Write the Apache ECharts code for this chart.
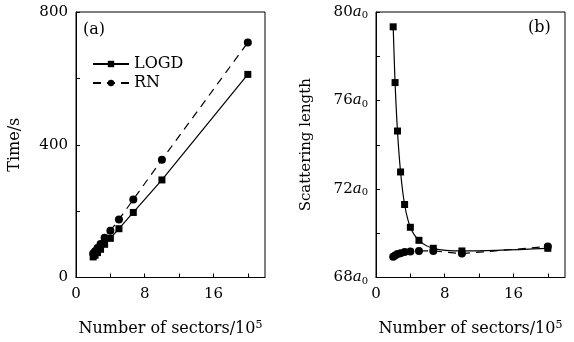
<!DOCTYPE html>
<html>
<head>
<meta charset="utf-8">
<script src="https://cdn.jsdelivr.net/npm/echarts@6/dist/echarts.min.js"></script>
<style>
  html, body { margin: 0; padding: 0; background: #fff; }
  #chart { width: 574px; height: 342px; }
</style>
</head>
<body>
<div id="chart"></div>
<script>
// number of sectors (x 10^5)
const sectors = [2.0, 2.22, 2.5, 2.86, 3.33, 4.0, 5.0, 6.67, 10.0, 20.0]
// (a) computing time / s
const timeLOGD = [62, 67, 75, 85, 100, 118, 147, 196, 294, 612]
const timeRN = [72, 79, 89, 101, 120, 141, 175, 235, 355, 708]
// (b) scattering length / a0
const scatLOGD = [79.33, 76.81, 74.62, 72.77, 71.30, 70.27, 69.68, 69.32, 69.20, 69.32]
const scatRN = [68.94, 69.00, 69.06, 69.10, 69.15, 69.18, 69.20, 69.20, 69.08, 69.40]

const xTickLabels = [0, 8, 16]
const timeTickLabels = [0, 400, 800]
const scatTickLabels = [68, 72, 76, 80]

const FONT = 'DejaVu Serif'
const FS = 15
const FS_NAME = 16

function pairs (xs, ys) {
  return xs.map((x, i) => [x, ys[i]])
}

function xAxisFor (gridIndex) {
  return {
    type: 'value',
    gridIndex: gridIndex,
    min: 0,
    max: 22,
    interval: 4,
    name: '{t|Number of sectors/10}{sup|5}',
    nameLocation: 'middle',
    nameGap: 42,
    nameTextStyle: {
      rich: {
        t: { fontFamily: FONT, fontSize: FS_NAME, color: '#000' },
        sup: { fontFamily: FONT, fontSize: 11, color: '#000', verticalAlign: 'top', padding: [0, 0, 8, 0] }
      }
    },
    splitLine: { show: false },
    axisLine: { onZero: false, lineStyle: { color: '#000', width: 1 } },
    axisTick: { inside: true, length: 4, lineStyle: { color: '#000' } },
    axisLabel: {
      margin: 9,
      showMaxLabel: false,
      fontFamily: FONT,
      fontSize: FS,
      color: '#000',
      formatter: function (v) {
        return xTickLabels.indexOf(v) >= 0 ? String(v) : ''
      }
    }
  }
}

const option = {
  backgroundColor: '#fff',
  animation: false,
  grid: [
    { left: 76, top: 12, width: 189, height: 272, show: true, borderColor: '#000', borderWidth: 1 },
    { left: 376, top: 12, width: 189, height: 272, show: true, borderColor: '#000', borderWidth: 1 }
  ],
  legend: {
    left: 87,
    top: 51,
    orient: 'vertical',
    itemWidth: 36,
    itemHeight: 8,
    itemGap: 3,
    textStyle: { fontFamily: FONT, fontSize: FS_NAME, color: '#000' },
    data: ['LOGD', 'RN']
  },
  title: [
    { text: '(a)', left: 78, top: 17, textStyle: { fontFamily: FONT, fontSize: FS_NAME, fontWeight: 'normal', color: '#000' } },
    { text: '(b)', left: 523, top: 15, textStyle: { fontFamily: FONT, fontSize: FS_NAME, fontWeight: 'normal', color: '#000' } }
  ],
  xAxis: [xAxisFor(0), xAxisFor(1)],
  yAxis: [
    {
      type: 'value',
      gridIndex: 0,
      min: 0,
      max: 800,
      interval: 200,
      name: 'Time/s',
      nameLocation: 'middle',
      nameGap: 53,
      nameTextStyle: { fontFamily: FONT, fontSize: FS_NAME, color: '#000' },
      splitLine: { show: false },
      axisLine: { onZero: false, lineStyle: { color: '#000', width: 1 } },
      axisTick: { inside: true, length: 4, lineStyle: { color: '#000' } },
      axisLabel: {
        margin: 8,
        fontFamily: FONT,
        fontSize: FS,
        color: '#000',
        formatter: function (v) {
          return timeTickLabels.indexOf(v) >= 0 ? String(v) : ''
        }
      }
    },
    {
      type: 'value',
      gridIndex: 1,
      min: 68,
      max: 80,
      interval: 2,
      name: 'Scattering length',
      nameLocation: 'middle',
      nameGap: 62,
      nameTextStyle: { fontFamily: FONT, fontSize: FS, color: '#000' },
      splitLine: { show: false },
      axisLine: { onZero: false, lineStyle: { color: '#000', width: 1 } },
      axisTick: { inside: true, length: 4, lineStyle: { color: '#000' } },
      axisLabel: {
        margin: 8,
        formatter: function (v) {
          return scatTickLabels.indexOf(v) >= 0 ? '{n|' + v + '}{a|a}{s|0}' : ''
        },
        rich: {
          n: { fontFamily: FONT, fontSize: FS, color: '#000' },
          a: { fontFamily: FONT, fontSize: FS, fontStyle: 'italic', color: '#000' },
          s: { fontFamily: FONT, fontSize: 10, color: '#000', verticalAlign: 'bottom', padding: [7, 0, 0, 0] }
        }
      }
    }
  ],
  series: [
    {
      name: 'LOGD',
      type: 'line',
      xAxisIndex: 0,
      yAxisIndex: 0,
      data: pairs(sectors, timeLOGD),
      symbol: 'rect',
      symbolSize: 7,
      itemStyle: { color: '#000' },
      lineStyle: { color: '#000', width: 1.2 }
    },
    {
      name: 'RN',
      type: 'line',
      xAxisIndex: 0,
      yAxisIndex: 0,
      data: pairs(sectors, timeRN),
      symbol: 'circle',
      symbolSize: 8,
      itemStyle: { color: '#000' },
      lineStyle: { color: '#000', width: 1.2, type: [8, 6] }
    },
    {
      name: 'LOGD',
      type: 'line',
      xAxisIndex: 1,
      yAxisIndex: 1,
      data: pairs(sectors, scatLOGD),
      smooth: 0.3,
      symbol: 'rect',
      symbolSize: 7,
      itemStyle: { color: '#000' },
      lineStyle: { color: '#000', width: 1.2 }
    },
    {
      name: 'RN',
      type: 'line',
      xAxisIndex: 1,
      yAxisIndex: 1,
      data: pairs(sectors, scatRN),
      symbol: 'circle',
      symbolSize: 8,
      itemStyle: { color: '#000' },
      lineStyle: { color: '#000', width: 1.2, type: [8, 6] }
    }
  ]
}

const myChart = echarts.init(document.getElementById('chart'), null, { renderer: 'canvas' })
myChart.setOption(option)
</script>
</body>
</html>
